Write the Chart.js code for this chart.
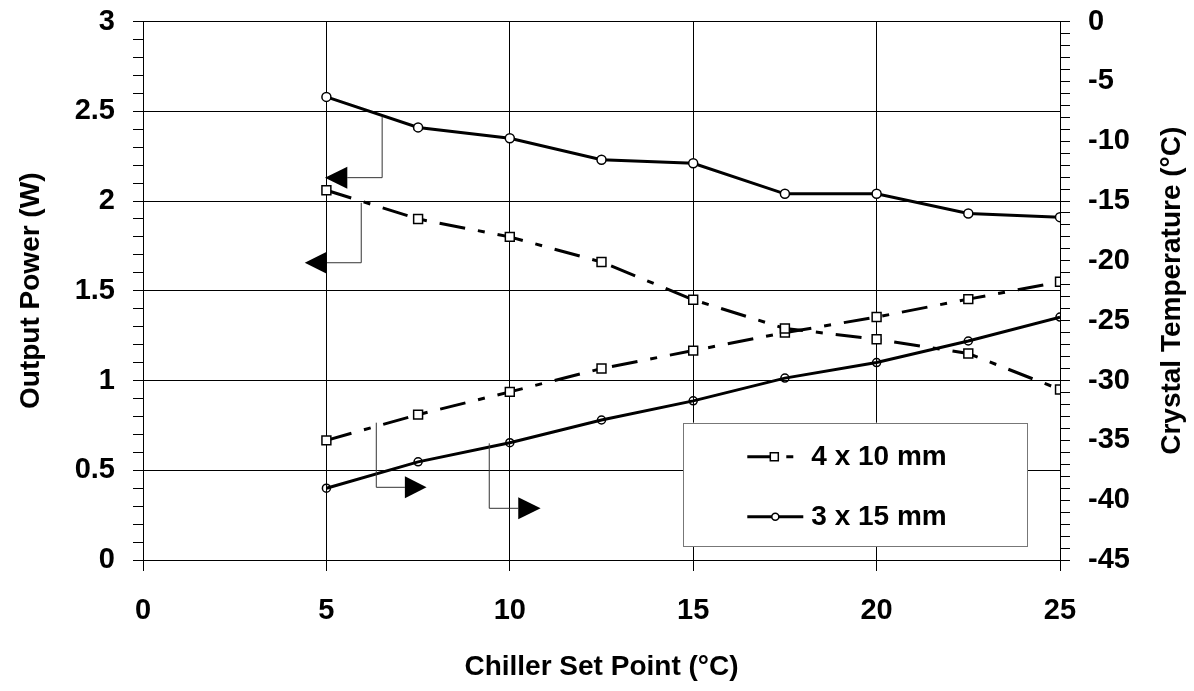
<!DOCTYPE html>
<html>
<head>
<meta charset="utf-8">
<script src="https://cdn.jsdelivr.net/npm/chart.js@4.4.1/dist/chart.umd.min.js"></script>
<style>
    body { margin: 0; background: #fff; }
    #wrap { width: 1194px; height: 691px; }
</style>
</head>
<body>
<div id="wrap"><canvas id="chart"></canvas></div>
<script>
// chiller set point (°C)
const setPoints = [5, 7.5, 10, 12.5, 15, 17.5, 20, 22.5, 25];

// output power (W) - left axis
const power4x10 = [2.06, 1.90, 1.80, 1.66, 1.45, 1.29, 1.23, 1.15, 0.95];
const power3x15 = [2.58, 2.41, 2.35, 2.23, 2.21, 2.04, 2.04, 1.93, 1.91];

// crystal temperature (°C) - right axis
const temp4x10 = [-35.0, -32.85, -30.95, -29.0, -27.5, -26.0, -24.7, -23.2, -21.75];
const temp3x15 = [-39.0, -36.8, -35.2, -33.3, -31.7, -29.8, -28.5, -26.7, -24.7];

const seriesNames = ["4 x 10 mm", "3 x 15 mm"];
const rightTitle = "Crystal Temperature (°C)";

// callout arrows, in chart units (x = set point, y = power axis)
const callouts = [
    { x: 6.52, top: 2.47, bottom: 2.13, base: 5.57, tip: 4.96 },
    { x: 5.95, top: 1.99, bottom: 1.656, base: 5.01, tip: 4.41 },
    { x: 6.36, top: 0.765, bottom: 0.405, base: 7.14, tip: 7.73 },
    { x: 9.44, top: 0.65, bottom: 0.288, base: 10.23, tip: 10.84 }
];

const FONT = "'Liberation Sans', Arial, sans-serif";
const dashDot = [26, 13, 7, 13];

function pts(values) {
    return setPoints.map((s, i) => ({ x: s, y: values[i] }));
}

function isHalf(v) {
    return Math.abs(v * 2 - Math.round(v * 2)) < 1e-6;
}

// fixed axis boxes so the plot area sits where the original has it
function fixWidth(w) {
    return (s) => {
        s.width = w;
        s.paddingTop = 0;
        s.paddingBottom = 0;
    };
}

const calloutPlugin = {
    id: "callouts",
    afterDatasetsDraw(chart) {
        const { ctx, scales } = chart;
        const x = scales.x, y = scales.y;
        ctx.save();
        callouts.forEach((c) => {
            let px = x.getPixelForValue(c.x);
            let top = y.getPixelForValue(c.top);
            let bot = y.getPixelForValue(c.bottom);
            let base = x.getPixelForValue(c.base);
            let tip = x.getPixelForValue(c.tip);
            ctx.strokeStyle = "#333";
            ctx.lineWidth = 1;
            ctx.beginPath();
            ctx.moveTo(px, top);
            ctx.lineTo(px, bot);
            ctx.lineTo(base, bot);
            ctx.stroke();
            ctx.fillStyle = "#000";
            ctx.beginPath();
            ctx.moveTo(tip, bot);
            ctx.lineTo(base, bot - 11);
            ctx.lineTo(base, bot + 11);
            ctx.closePath();
            ctx.fill();
        });

        // legend box
        let left = x.getPixelForValue(14.73), right = x.getPixelForValue(24.1);
        let top = y.getPixelForValue(0.765), bottom = y.getPixelForValue(0.078);
        ctx.fillStyle = "#fff";
        ctx.fillRect(left, top, right - left, bottom - top);
        ctx.strokeStyle = "#777";
        ctx.lineWidth = 1;
        ctx.strokeRect(Math.round(left) + 0.5, Math.round(top) + 0.5, Math.round(right - left), Math.round(bottom - top));

        let rowY = [top + 34, top + 94];
        let sx = left + 64;
        chart.data.datasets.filter((d) => d.showInLegend).forEach((d, i) => {
            let yy = rowY[i];
            ctx.strokeStyle = "#000";
            ctx.lineWidth = 3;
            ctx.setLineDash(d.borderDash || []);
            ctx.beginPath();
            ctx.moveTo(sx, yy);
            ctx.lineTo(sx + (d.borderDash ? 46 : 56), yy);
            ctx.stroke();
            ctx.setLineDash([]);
            ctx.lineWidth = 1.5;
            ctx.fillStyle = "#fff";
            ctx.beginPath();
            if (d.pointStyle === "rect") {
                ctx.rect(sx + 23, yy - 4, 8, 8);
            } else {
                ctx.arc(sx + 28, yy, 3.5, 0, Math.PI * 2);
            }
            ctx.fill();
            ctx.stroke();
            ctx.fillStyle = "#000";
            ctx.font = "bold 28px " + FONT;
            ctx.textBaseline = "middle";
            ctx.textAlign = "left";
            ctx.fillText(d.label, sx + 64, yy + 1);
        });

        // right axis title, reading bottom to top like the left one
        let area = chart.chartArea;
        ctx.translate(1172, (area.top + area.bottom) / 2);
        ctx.rotate(-Math.PI / 2);
        ctx.font = "bold 28px " + FONT;
        ctx.textAlign = "center";
        ctx.textBaseline = "middle";
        ctx.fillStyle = "#000";
        ctx.fillText(rightTitle, 0, 0);
        ctx.restore();
    }
};

const ctx = document.getElementById("chart").getContext("2d");
const chart = new Chart(ctx, {
    type: "line",
    data: {
        datasets: [
            {
                label: seriesNames[0],
                showInLegend: true,
                data: pts(power4x10),
                yAxisID: "y",
                borderColor: "#000",
                borderWidth: 3,
                borderDash: dashDot,
                pointStyle: "rect",
                pointRadius: 6.3,
                pointBorderWidth: 1.5,
                pointBackgroundColor: "#fff",
                pointBorderColor: "#000"
            },
            {
                label: seriesNames[0],
                data: pts(temp4x10),
                yAxisID: "y2",
                borderColor: "#000",
                borderWidth: 3,
                borderDash: dashDot,
                pointStyle: "rect",
                pointRadius: 6.3,
                pointBorderWidth: 1.5,
                pointBackgroundColor: "#fff",
                pointBorderColor: "#000"
            },
            {
                label: seriesNames[1],
                showInLegend: true,
                data: pts(power3x15),
                yAxisID: "y",
                borderColor: "#000",
                borderWidth: 3,
                pointStyle: "circle",
                pointRadius: 4.5,
                pointBorderWidth: 1.5,
                pointBackgroundColor: "#fff",
                pointBorderColor: "#000"
            },
            {
                label: seriesNames[1],
                data: pts(temp3x15),
                yAxisID: "y2",
                borderColor: "#000",
                borderWidth: 3,
                pointStyle: "circle",
                pointRadius: 4,
                pointBorderWidth: 1.5,
                pointBackgroundColor: "rgba(0,0,0,0)",
                pointBorderColor: "#000"
            }
        ]
    },
    options: {
        responsive: true,
        maintainAspectRatio: false,
        animation: false,
        events: [],
        layout: { padding: { top: 21.5, left: 0, right: 0, bottom: 0 } },
        elements: { line: { tension: 0 } },
        plugins: {
            legend: { display: false },
            tooltip: { enabled: false }
        },
        scales: {
            x: {
                type: "linear",
                min: 0,
                max: 25,
                afterFit: (s) => { s.height = 131; },
                ticks: {
                    stepSize: 5,
                    color: "#000",
                    padding: 23,
                    font: { family: FONT, size: 29, weight: "bold" }
                },
                grid: { color: "#000", lineWidth: 1, tickLength: 11 },
                border: { color: "#000", width: 1 },
                title: {
                    display: true,
                    text: "Chiller Set Point (°C)",
                    color: "#000",
                    padding: { top: 0, bottom: 7 },
                    font: { family: FONT, size: 28, weight: "bold" }
                }
            },
            y: {
                position: "left",
                min: 0,
                max: 3,
                afterFit: fixWidth(143),
                ticks: {
                    stepSize: 0.1,
                    autoSkip: false,
                    color: "#000",
                    padding: 18,
                    font: { family: FONT, size: 29, weight: "bold" },
                    callback: (v) => (isHalf(v) ? String(Number(v.toFixed(1))) : "")
                },
                grid: {
                    color: (c) => (isHalf(c.tick.value) ? "#000" : "rgba(0,0,0,0)"),
                    tickColor: "#000",
                    lineWidth: 1,
                    tickLength: 10
                },
                border: { color: "#000", width: 1 },
                title: {
                    display: true,
                    text: "Output Power (W)",
                    color: "#000",
                    padding: { top: 14, bottom: 0 },
                    font: { family: FONT, size: 28, weight: "bold" }
                }
            },
            y2: {
                position: "right",
                min: -45,
                max: 0,
                afterFit: fixWidth(134),
                ticks: {
                    stepSize: 1,
                    autoSkip: false,
                    color: "#000",
                    padding: 18,
                    font: { family: FONT, size: 29, weight: "bold" },
                    callback: (v) => (v % 5 === 0 ? String(v) : "")
                },
                grid: {
                    drawOnChartArea: false,
                    tickColor: "#000",
                    lineWidth: 1,
                    tickLength: 10
                },
                border: { color: "#000", width: 1 }
            }
        }
    },
    plugins: [calloutPlugin]
});
</script>
</body>
</html>
